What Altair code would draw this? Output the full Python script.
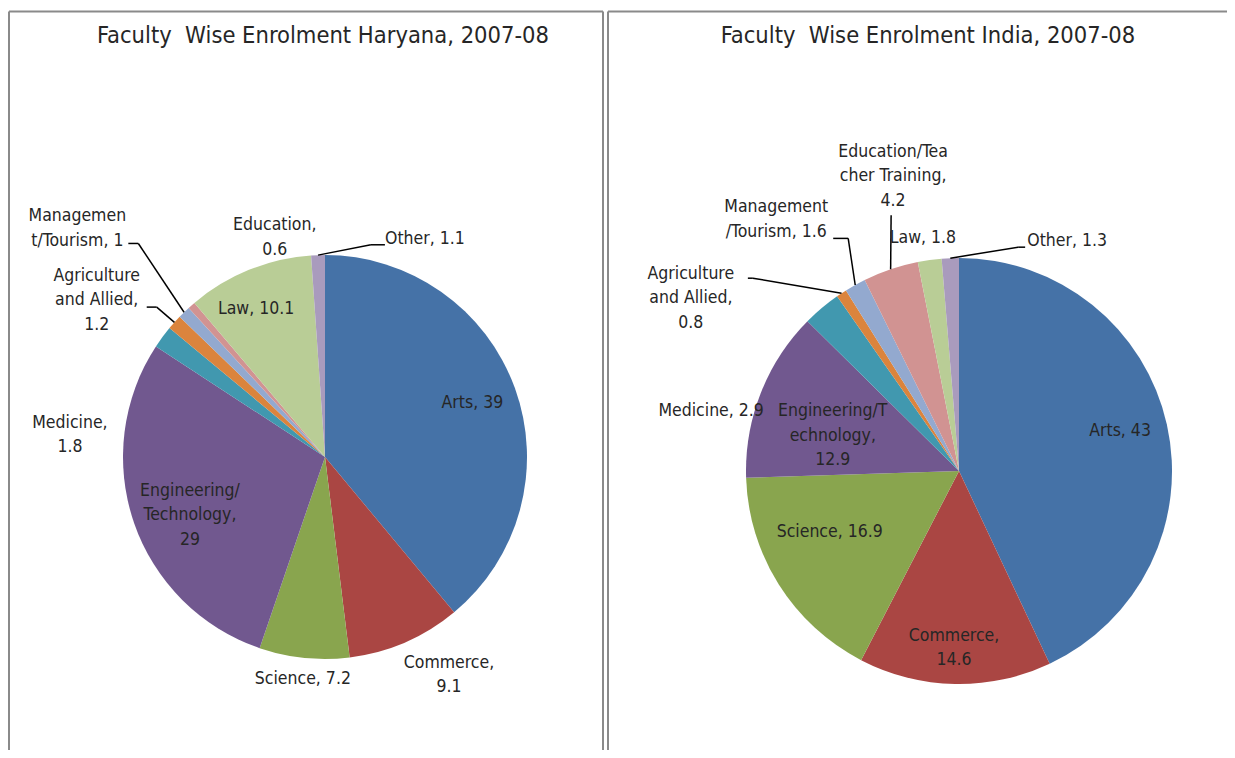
import math
import altair as alt
import pandas as pd

# ---------------- data ----------------
categories = ["Arts", "Commerce", "Science", "Engineering/Technology", "Medicine",
              "Agriculture and Allied", "Management/Tourism", "Education", "Law", "Other"]
haryana_values = [39, 9.1, 7.2, 29, 1.8, 1.2, 1, 0.6, 10.1, 1.1]
india_values = [43, 14.6, 16.9, 12.9, 2.9, 0.8, 1.6, 4.2, 1.8, 1.3]
haryana_labels = ["Arts, 39", "Commerce,\n9.1", "Science, 7.2", "Engineering/\nTechnology,\n29",
                  "Medicine,\n1.8", "Agriculture\nand Allied,\n1.2", "Managemen\nt/Tourism, 1",
                  "Education,\n0.6", "Law, 10.1", "Other, 1.1"]
india_labels = ["Arts, 43", "Commerce,\n14.6", "Science, 16.9", "Engineering/T\nechnology,\n12.9",
                "Medicine, 2.9", "Agriculture\nand Allied,\n0.8", "Management\n/Tourism, 1.6",
                "Education/Tea\ncher Training,\n4.2", "Law, 1.8", "Other, 1.3"]
titles = ["Faculty\u00a0 Wise Enrolment Haryana, 2007-08", "Faculty\u00a0 Wise Enrolment India, 2007-08"]
colors = ["#4572A7", "#AA4643", "#89A54E", "#71588F", "#4198AF",
          "#DB843D", "#93A9CF", "#D19392", "#B9CD96", "#A99BBD"]

# ---------------- layout ----------------
W, H = 1219, 742
FONT = "DejaVu Sans Condensed, DejaVu Sans, sans-serif"
LH = 24.5
pie_geom = [dict(cx=317, cy=449, r=202, tx=315), dict(cx=951, cy=463, r=213, tx=920)]
# label placement: (angle deg clockwise from 12 o'clock, distance from pie centre)
label_polar = [
    [(69.8, 157), (150.4, 251), (185.7, 223), (246.7, 147), (274.9, 256),
     (304.5, 277), (312.7, 337), (347.1, 225), (335, 163), (24.6, 240)],
    [(76.0, 166), (181.6, 177), (244.7, 143), (285.5, 131), (283.6, 255),
     (302.8, 319), (324, 311), (347.4, 302), (351.2, 236), (25.2, 254)],
]
# leader lines: slice index -> (end dx, end dy from label centre, elbow length)
leaders = [
    {6: (51, 15, 10), 5: (50, 7, 10), 9: (-40, 6, -14)},
    {5: (57, -20, 5), 6: (57, 19, 15), 7: (-2, 39, 0), 9: (-42, 6, -7)},
]

value_sets = [haryana_values, india_values]
label_sets = [haryana_labels, india_labels]

layers = []
text_rows, leader_rows = [], []
for p, (vals, labs) in enumerate(zip(value_sets, label_sets)):
    g = pie_geom[p]
    df = pd.DataFrame({"category": categories, "value": vals, "idx": list(range(len(vals)))})
    arc = alt.Chart(df).mark_arc(outerRadius=g["r"]).encode(
        theta=alt.Theta("value:Q", stack=True),
        order=alt.Order("idx:Q"),
        color=alt.Color("category:N", scale=alt.Scale(domain=categories, range=colors), legend=None),
        x=alt.value(g["cx"]),
        y=alt.value(g["cy"]),
    )
    layers.append(arc)
    total = sum(vals)
    cum = 0.0
    for i, v in enumerate(vals):
        mid = (cum + v / 2) / total * 2 * math.pi
        cum += v
        a, d = label_polar[p][i]
        lx = g["cx"] + d * math.sin(math.radians(a))
        ly = g["cy"] - d * math.cos(math.radians(a))
        nlines = labs[i].count("\n") + 1
        text_rows.append({"x": lx, "y": ly - (nlines - 1) * LH / 2, "label": labs[i]})
        if i in leaders[p]:
            dx, dy, el = leaders[p][i]
            ex, ey = lx + dx, ly + dy
            bx, by = ex + el, ey
            sx = g["cx"] + g["r"] * math.sin(mid)
            sy = g["cy"] - g["r"] * math.cos(mid)
            if el != 0:
                leader_rows.append({"x": ex, "y": ey, "x2": bx, "y2": by})
            leader_rows.append({"x": bx, "y": by, "x2": sx, "y2": sy})

texts = alt.Chart(pd.DataFrame(text_rows)).mark_text(
    lineBreak="\n", align="center", baseline="middle", fontSize=17.5, lineHeight=LH,
    font=FONT, color="#262626"
).encode(
    x=alt.X("x:Q", scale=None, axis=None),
    y=alt.Y("y:Q", scale=None, axis=None),
    text="label:N",
)

leader_lines = alt.Chart(pd.DataFrame(leader_rows)).mark_rule(color="#000000", strokeWidth=1.5).encode(
    x=alt.X("x:Q", scale=None, axis=None),
    y=alt.Y("y:Q", scale=None, axis=None),
    x2="x2:Q",
    y2="y2:Q",
)

title_df = pd.DataFrame({"title": titles, "x": [g["tx"] for g in pie_geom], "y": [28, 28]})
title_text = alt.Chart(title_df).mark_text(
    align="center", baseline="middle", fontSize=23.5, font=FONT, color="#262626"
).encode(
    x=alt.X("x:Q", scale=None, axis=None),
    y=alt.Y("y:Q", scale=None, axis=None),
    text="title:N",
)

border_df = pd.DataFrame({
    "x": [1, 595, 600, 1, 600],
    "y": [3.5, 3.5, 3.5, 3.5, 3.5],
    "x2": [1, 595, 600, 595, W],
    "y2": [H, H, H, 3.5, 3.5],
})
borders = alt.Chart(border_df).mark_rule(color="#8a8a8a", strokeWidth=2).encode(
    x=alt.X("x:Q", scale=None, axis=None),
    y=alt.Y("y:Q", scale=None, axis=None),
    x2="x2:Q",
    y2="y2:Q",
)

chart = alt.layer(*layers, leader_lines, texts, title_text, borders).resolve_scale(
    theta="independent"
).properties(
    width=W, height=H, padding=0, autosize=alt.AutoSizeParams(type="none")
).configure_view(stroke=None)

chart.save("out.html", embed_options={"renderer": "svg", "actions": False})
